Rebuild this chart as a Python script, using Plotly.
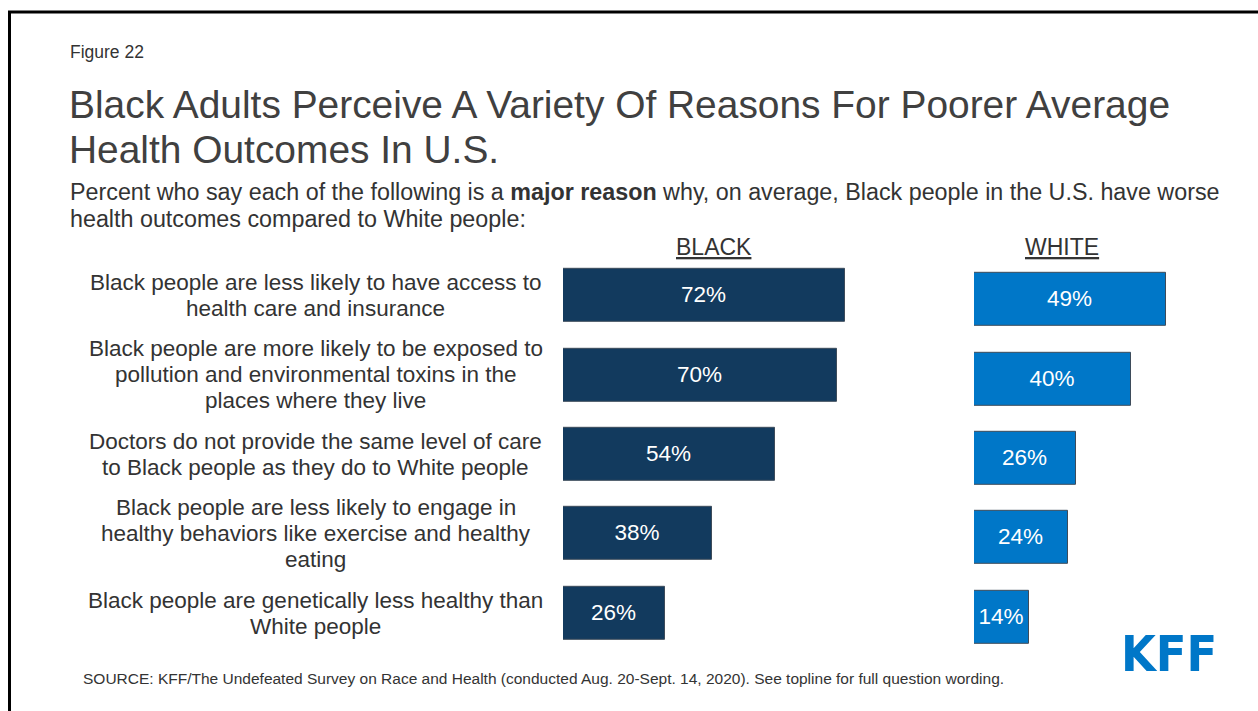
import plotly.graph_objects as go

# Survey data: share saying each item is a major reason (percent)
reasons = [
    "Black people are less likely to have access to<br>health care and insurance",
    "Black people are more likely to be exposed to<br>pollution and environmental toxins in the<br>places where they live",
    "Doctors do not provide the same level of care<br>to Black people as they do to White people",
    "Black people are less likely to engage in<br>healthy behaviors like exercise and healthy<br>eating",
    "Black people are genetically less healthy than<br>White people",
]
black_pct = [72, 70, 54, 38, 26]
white_pct = [49, 40, 26, 24, 14]
group_names = ["BLACK", "WHITE"]

title_lines = ["Black Adults Perceive A Variety Of Reasons For Poorer Average",
               "Health Outcomes In U.S."]
subtitle_lines = ["Percent who say each of the following is a <b>major reason</b> why, "
                  "on average, Black people in the U.S. have worse",
                  "health outcomes compared to White people:"]
source_text = ("SOURCE: KFF/The Undefeated Survey on Race and Health (conducted Aug. 20-Sept. 14, 2020). "
               "See topline for full question wording.")

W, H = 1258, 711
FONT = "Arial, Liberation Sans, sans-serif"
TXT = "#333333"
NAVY = "#123A5E"
BLUE = "#0077C8"


def px(x):
    return x / W


def py(y):
    return 1 - y / H


rows = list(range(len(reasons)))

fig = go.Figure()
fig.add_trace(go.Bar(
    x=black_pct, y=rows, orientation="h", width=0.667,
    marker=dict(color=NAVY, line=dict(color="#3d4b5a", width=1)),
    texttemplate="%{x}%", textposition="inside", insidetextanchor="middle",
    textfont=dict(color="white", size=22.5, family=FONT),
    constraintext="none", xaxis="x", yaxis="y", showlegend=False,
    hoverinfo="skip",
))
fig.add_trace(go.Bar(
    x=white_pct, y=rows, orientation="h", width=0.667,
    marker=dict(color=BLUE, line=dict(color="#3d4b5a", width=1)),
    texttemplate="%{x}%", textposition="inside", insidetextanchor="middle",
    textfont=dict(color="white", size=22.5, family=FONT),
    constraintext="none", xaxis="x2", yaxis="y2", showlegend=False,
    hoverinfo="skip",
))

hidden = dict(showgrid=False, zeroline=False, showticklabels=False,
              showline=False, ticks="", fixedrange=True)

# 3.92 px per percentage point on both panels
fig.update_layout(
    width=W, height=H,
    margin=dict(l=0, r=0, t=0, b=0),
    paper_bgcolor="white", plot_bgcolor="rgba(0,0,0,0)",
    bargap=0,
    xaxis=dict(domain=[px(563), px(955)], range=[0, 100], **hidden),
    xaxis2=dict(domain=[px(974), 1.0], range=[0, (W - 974) / 3.92], **hidden),
    yaxis=dict(domain=[py(652.7), py(255.8)], range=[4.5, -0.5],
               anchor="x", **hidden),
    yaxis2=dict(domain=[py(656.7), py(259.8)], range=[4.5, -0.5],
                anchor="x2", **hidden),
)

ann = []


def paper_text(text, x, y, size, color=TXT, xanchor="left", family=FONT):
    ann.append(dict(text=text, x=px(x), y=py(y), xref="paper", yref="paper",
                    xanchor=xanchor, yanchor="middle", showarrow=False,
                    font=dict(size=size, color=color, family=family)))


# Row labels, centred to the left of the bars, one annotation per line
LABEL_LEAD = 26
for i, label in enumerate(reasons):
    lines = label.split("<br>")
    n = len(lines)
    for k, line in enumerate(lines):
        ann.append(dict(text=line, x=px(316), xref="paper", y=i, yref="y",
                        xanchor="center", yanchor="middle", showarrow=False,
                        yshift=((n - 1) / 2 - k) * LABEL_LEAD,
                        font=dict(size=22.5, color=TXT, family=FONT)))

# Column headers
paper_text(f"<u>{group_names[0]}</u>", 714, 247, 23, xanchor="center")
paper_text(f"<u>{group_names[1]}</u>", 1062, 247, 23, xanchor="center")

# Figure number, title, subtitle
paper_text("Figure 22", 68, 52, 17.5)
for k, line in enumerate(title_lines):
    paper_text(line, 67, 104 + 46 * k, 38.9, color="#404040")
for k, line in enumerate(subtitle_lines):
    paper_text(line, 68, 192 + 27 * k, 23.3)

# Source note and logo
paper_text(source_text, 81, 678, 15.5)
paper_text("<b>KFF</b>", 1169, 654, 50, color=BLUE, xanchor="center",
           family="Liberation Sans Narrow, DejaVu Sans Condensed, Arial Narrow, sans-serif")

fig.update_layout(annotations=ann)

# Slide frame (left and top edges visible)
fig.add_shape(type="rect", xref="paper", yref="paper",
              x0=px(9.5), x1=1.05, y0=-0.05, y1=py(12),
              line=dict(color="black", width=3), fillcolor="rgba(0,0,0,0)",
              layer="above")

fig.write_html("out.html")
